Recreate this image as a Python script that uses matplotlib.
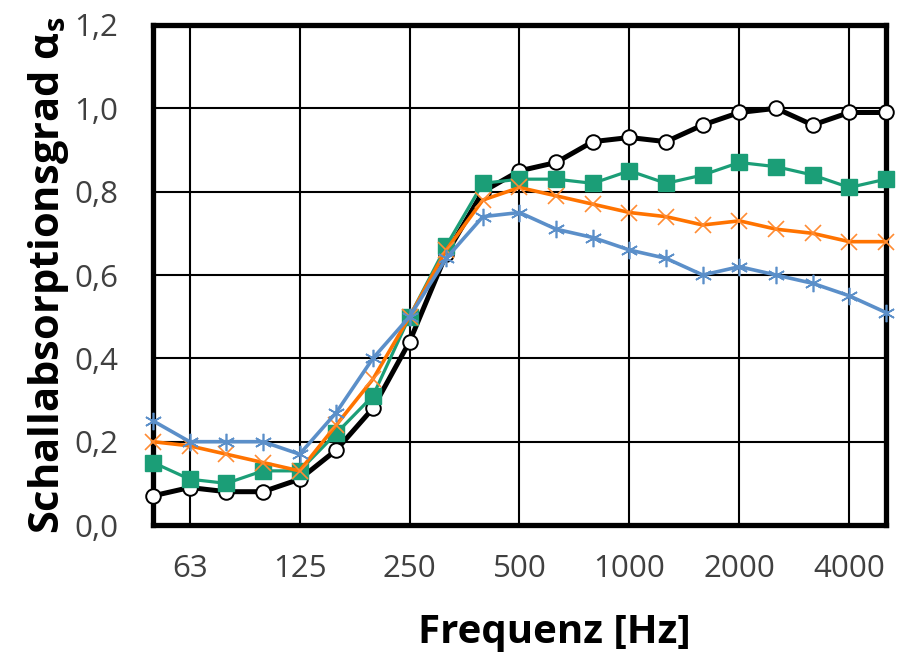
import numpy as np
import matplotlib.pyplot as plt

# third-octave bands 50 Hz .. 5000 Hz
freqs = [50, 63, 80, 100, 125, 160, 200, 250, 315, 400, 500, 630, 800,
         1000, 1250, 1600, 2000, 2500, 3150, 4000, 5000]
tick_labels = ['63', '125', '250', '500', '1000', '2000', '4000']
tick_freqs = [63, 125, 250, 500, 1000, 2000, 4000]

alpha_black = [0.07, 0.09, 0.08, 0.08, 0.11, 0.18, 0.28, 0.44, 0.65, 0.80, 0.85,
               0.87, 0.92, 0.93, 0.92, 0.96, 0.99, 1.00, 0.96, 0.99, 0.99]
alpha_green = [0.15, 0.11, 0.10, 0.13, 0.13, 0.22, 0.31, 0.50, 0.67, 0.82, 0.83,
               0.83, 0.82, 0.85, 0.82, 0.84, 0.87, 0.86, 0.84, 0.81, 0.83]
alpha_orange = [0.20, 0.19, 0.17, 0.15, 0.13, 0.24, 0.35, 0.50, 0.66, 0.78, 0.81,
                0.79, 0.77, 0.75, 0.74, 0.72, 0.73, 0.71, 0.70, 0.68, 0.68]
alpha_blue = [0.25, 0.20, 0.20, 0.20, 0.17, 0.27, 0.40, 0.50, 0.64, 0.74, 0.75,
              0.71, 0.69, 0.66, 0.64, 0.60, 0.62, 0.60, 0.58, 0.55, 0.51]

plt.rcParams['font.family'] = ['Open Sans', 'DejaVu Sans']

x = np.arange(len(freqs))
fig = plt.figure(figsize=(8.97, 6.54), dpi=100)
ax = fig.add_axes([0.1706, 0.1972, 0.8171, 0.7646])

ax.plot(x, alpha_black, color='black', lw=3.6, marker='o', ms=10.5,
        mfc='white', mec='black', mew=1.4, zorder=5, clip_on=False)
ax.plot(x, alpha_green, color='#1b9e77', lw=2.3, marker='s', ms=12,
        mfc='#1b9e77', mec='#1b9e77', zorder=6, clip_on=False)
ax.plot(x, alpha_orange, color='#ff7300', lw=2.6, marker='x', ms=11,
        mew=1.2, mec='#ff8c33', zorder=7, clip_on=False)
ax.plot(x, alpha_blue, color='#5b8fc9', lw=2.6, marker=(6, 2, 0), ms=12.5,
        mew=1.2, zorder=8, clip_on=False)

ax.set_xlim(0, len(freqs) - 1)
ax.set_ylim(0, 1.2)
ax.set_xticks([freqs.index(f) for f in tick_freqs])
ax.set_xticklabels(tick_labels)
yt = np.arange(0, 1.21, 0.2)
ax.set_yticks(yt)
ax.set_yticklabels([f'{v:.1f}'.replace('.', ',') for v in yt])
ax.tick_params(length=0, labelsize=22.5, labelcolor='#404040')
ax.tick_params(axis='x', pad=21)
ax.tick_params(axis='y', pad=25)
ax.grid(True, color='black', lw=1.5)
ax.set_axisbelow(True)
for s in ax.spines.values():
    s.set_linewidth(3.8)

ax.set_xlabel('Frequenz [Hz]', fontsize=29, fontweight='bold')
ax.xaxis.set_label_coords(0.548, -0.175)
ax.set_ylabel(r'Schallabsorptionsgrad α$_\mathregular{s}$', fontsize=30,
              fontweight='bold', labelpad=2)

fig.savefig('out.png', dpi=100)
